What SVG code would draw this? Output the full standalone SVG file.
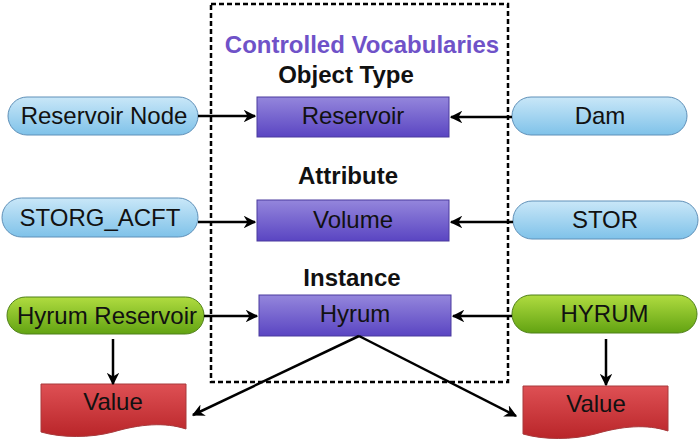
<svg xmlns="http://www.w3.org/2000/svg" width="700" height="440" viewBox="0 0 700 440">
<defs>
<linearGradient id="gBlue" x1="0" y1="0" x2="0" y2="1"><stop offset="0" stop-color="#c9e7f8"/><stop offset="1" stop-color="#7fc2e9"/></linearGradient>
<linearGradient id="gGreen" x1="0" y1="0" x2="0" y2="1"><stop offset="0" stop-color="#b0dc40"/><stop offset="1" stop-color="#62a312"/></linearGradient>
<linearGradient id="gPurple" x1="0" y1="0" x2="0" y2="1"><stop offset="0" stop-color="#9486dc"/><stop offset="1" stop-color="#5a45c2"/></linearGradient>
<linearGradient id="gRed" x1="0" y1="0" x2="0" y2="1"><stop offset="0" stop-color="#de5054"/><stop offset="1" stop-color="#b92529"/></linearGradient>
<marker id="arr" viewBox="0 0 10 10" refX="9" refY="5" markerWidth="5" markerHeight="5" orient="auto" markerUnits="strokeWidth">
<path d="M0,0 L10,5 L0,10 L3,5 Z" fill="#000"/>
</marker>
<style>
text{font-family:"Liberation Sans",Arial,sans-serif;font-size:24px;text-anchor:middle;fill:#111}
.bold{font-weight:bold}
.title{fill:#6f52c8}
.pillB{fill:url(#gBlue);stroke:#5f90b8;stroke-width:1}
.pillG{fill:url(#gGreen);stroke:#4f8018;stroke-width:1}
.box{fill:url(#gPurple);stroke:#4a3a9e;stroke-width:1}
.doc{fill:url(#gRed);stroke:#a83a3c;stroke-width:1}
.conn line{stroke:#000;stroke-width:2.5;marker-end:url(#arr)}
.frame{fill:none;stroke:#000;stroke-width:2.5;stroke-dasharray:5,3}
</style>
</defs>
<rect width="700" height="440" fill="#fff"/>
<rect class="frame" x="211" y="4" width="297" height="378"/>
<text class="bold title" x="362" y="53">Controlled Vocabularies</text>
<text class="bold" x="346" y="83">Object Type</text>
<text class="bold" x="348" y="184">Attribute</text>
<text class="bold" x="352" y="286">Instance</text>

<g id="reservoirNode"><rect class="pillB" x="8" y="97" width="190" height="38" rx="19"/><text x="104" y="124">Reservoir Node</text></g>
<g id="storgAcft"><rect class="pillB" x="2" y="198" width="196" height="39" rx="19.5"/><text x="100" y="226">STORG_ACFT</text></g>
<g id="hyrumReservoir"><rect class="pillG" x="7" y="297" width="197" height="37" rx="18.5"/><text x="107" y="324">Hyrum Reservoir</text></g>

<g id="dam"><rect class="pillB" x="512" y="97" width="175" height="38" rx="19"/><text x="600" y="124">Dam</text></g>
<g id="stor"><rect class="pillB" x="513" y="201" width="185" height="38" rx="19"/><text x="605" y="228">STOR</text></g>
<g id="hyrumCaps"><rect class="pillG" x="512" y="295" width="185" height="38" rx="19"/><text x="604.5" y="322">HYRUM</text></g>

<g id="reservoir"><rect class="box" x="257" y="97" width="192" height="40"/><text x="353" y="124">Reservoir</text></g>
<g id="volume"><rect class="box" x="257" y="200" width="192" height="41"/><text x="353" y="228">Volume</text></g>
<g id="hyrum"><rect class="box" x="259" y="295" width="192" height="41"/><text x="355" y="322">Hyrum</text></g>

<g id="valueLeft"><path class="doc" d="M41,384 H186 V429 C165,422 140,424 113,432 C90,438 62,438 41,432 Z"/><text x="113" y="410">Value</text></g>
<g id="valueRight"><path class="doc" d="M523,386 H668 V431 C647,424 622,426 595,434 C572,440 544,440 523,434 Z"/><text x="596" y="412">Value</text></g>

<g class="conn">
<line x1="198" y1="116" x2="255" y2="116"/>
<line x1="198" y1="222" x2="255" y2="222"/>
<line x1="204" y1="316" x2="257" y2="316"/>
<line x1="512" y1="117" x2="451" y2="117"/>
<line x1="513" y1="222" x2="451" y2="222"/>
<line x1="512" y1="316" x2="453" y2="316"/>
<line x1="113" y1="339" x2="113" y2="384"/>
<line x1="606" y1="339" x2="606" y2="385"/>
<line x1="359" y1="336" x2="193" y2="415"/>
<line x1="359" y1="336" x2="516" y2="416"/>
</g>
</svg>
